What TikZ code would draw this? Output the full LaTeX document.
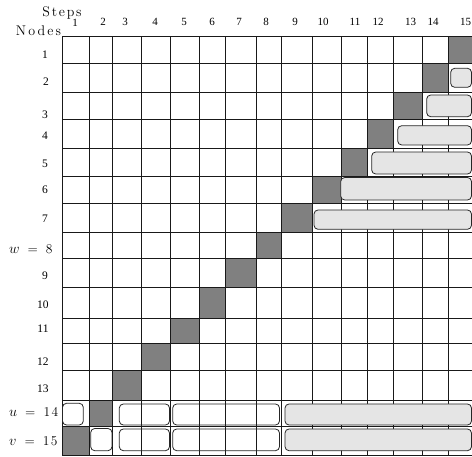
\documentclass[tikz,border=0pt]{standalone}
\usepackage{fontspec}
\newfontfamily\numfont{Liberation Serif}
\begin{document}
\begin{tikzpicture}[x=1pt,y=-1pt,
  dark/.style={fill=black!50},
  gridline/.style={line width=0.9pt, draw=black!90},
  rbox/.style={draw=black!85, line width=0.8pt, rounded corners=4pt},
  gbox/.style={rbox, fill=black!10},
  collab/.style={font=\numfont\fontsize{11}{12}\selectfont, inner sep=0pt},
  rowlab/.style={font=\numfont\fontsize{11.5}{12}\selectfont, inner sep=0pt},
  varlab/.style={font=\fontsize{13.5}{14}\selectfont, inner sep=0pt, anchor=west},
  head/.style={font=\fontsize{14}{15}\selectfont, inner sep=0pt}]
\useasboundingbox (0,0) rectangle (472,457);
% dark diagonal cells
\fill[dark] (448.5,36.7) rectangle (472,63.3);
\fill[dark] (422,63.3) rectangle (448.5,92.3);
\fill[dark] (393,92.3) rectangle (422,119);
\fill[dark] (367,119) rectangle (393,148.3);
\fill[dark] (341,148.3) rectangle (367,176.7);
\fill[dark] (312,176.7) rectangle (341,203.3);
\fill[dark] (281,203.3) rectangle (312,232.3);
\fill[dark] (256.7,232.3) rectangle (281,258.3);
\fill[dark] (225.7,258.3) rectangle (256.7,287.7);
\fill[dark] (199,287.7) rectangle (225.7,318.3);
\fill[dark] (170,318.3) rectangle (199,343.3);
\fill[dark] (141,343.3) rectangle (170,370);
\fill[dark] (112.7,370) rectangle (141,400.5);
\fill[dark] (89,400.5) rectangle (112.7,426.7);
\fill[dark] (62.3,426.7) rectangle (89,455);
% grid
\foreach \x in {62.3,89,112.7,141,170,199,225.7,256.7,281,312,341,367,393,422,448.5,472}
  \draw[gridline] (\x,36.7) -- (\x,455);
\foreach \y in {36.7,63.3,92.3,119,148.3,176.7,203.3,232.3,258.3,287.7,318.3,343.3,370,400.5,426.7,455}
  \draw[gridline] (62.3,\y) -- (472,\y);
% rounded boxes, upper right
\draw[gbox] (450.7,68.3) rectangle (471.5,87.3);
\draw[gbox] (426.7,95) rectangle (471.5,116.7);
\draw[gbox] (397.7,125.7) rectangle (471.5,145);
\draw[gbox] (371.7,152) rectangle (471.5,174);
\draw[gbox] (340.7,177.5) rectangle (471.5,200);
\draw[gbox] (314,210) rectangle (471.5,229.3);
% rounded boxes, bottom rows
\draw[rbox] (62.5,403.3) rectangle (83.3,425);
\draw[rbox] (119.3,404) rectangle (169.5,425);
\draw[rbox] (172.7,404) rectangle (279.5,425);
\draw[gbox] (285,404) rectangle (471.5,425);
\draw[rbox] (90.7,428.5) rectangle (112,450.7);
\draw[rbox] (119.3,429) rectangle (169.5,450.7);
\draw[rbox] (172.7,429) rectangle (279.5,450.7);
\draw[gbox] (285,429) rectangle (471.5,450.7);
% headings
\node[head] (steps) at (62,13) {S\kern1.8pt t\kern1.8pt e\kern1.8pt p\kern1.8pt s};
\node[head] (nodes) at (38.5,31) {N\kern2.2pt o\kern2.2pt d\kern2.2pt e\kern2.2pt s};
% column labels
\node[collab] (c1) at (75,23) {1};
\node[collab] (c2) at (103,22) {2};
\node[collab] (c3) at (125,22) {3};
\node[collab] (c4) at (155,22) {4};
\node[collab] (c5) at (184,22) {5};
\node[collab] (c6) at (212,22) {6};
\node[collab] (c7) at (239,22) {7};
\node[collab] (c8) at (266,22) {8};
\node[collab] (c9) at (295,22) {9};
\node[collab] (c10) at (323,22) {10};
\node[collab] (c11) at (355,22) {11};
\node[collab] (c12) at (378,22) {12};
\node[collab] (c13) at (410.5,22) {13};
\node[collab] (c14) at (433,22) {14};
\node[collab] (c15) at (465.5,22) {15};
% row labels
\node[rowlab] (r1) at (45,55) {1};
\node[rowlab] (r2) at (46,82) {2};
\node[rowlab] (r3) at (45,115) {3};
\node[rowlab] (r4) at (45,135.5) {4};
\node[rowlab] (r5) at (45,164) {5};
\node[rowlab] (r6) at (45,190) {6};
\node[rowlab] (r7) at (45,219) {7};
\node[varlab] (r8) at (9,249) {$w$\hspace{8pt}=\hspace{8pt}8};
\node[rowlab] (r9) at (45,276) {9};
\node[rowlab] (r10) at (43,304.5) {10};
\node[rowlab] (r11) at (43,329) {11};
\node[rowlab] (r12) at (43,362) {12};
\node[rowlab] (r13) at (43,389) {13};
\node[varlab] (r14) at (9,412) {$u$\hspace{8pt}=\hspace{8pt}1\hspace{1.5pt}4};
\node[varlab] (r15) at (9,441) {$v$\hspace{8pt}=\hspace{8pt}1\hspace{1.5pt}5};
\end{tikzpicture}
\end{document}
